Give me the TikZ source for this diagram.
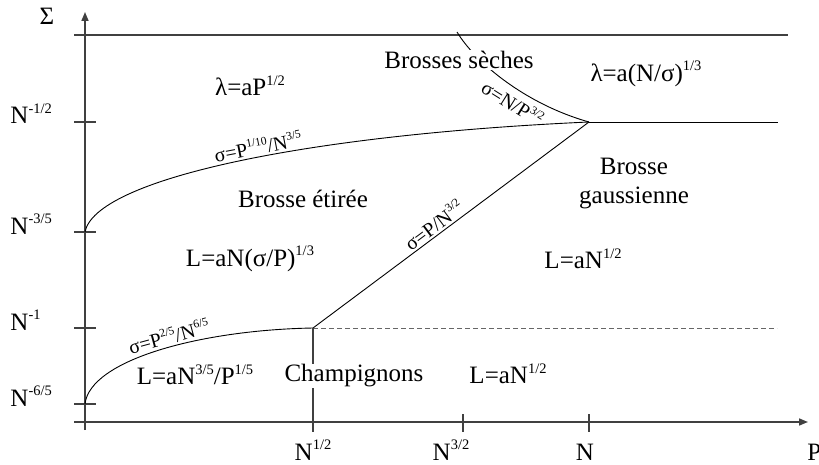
\documentclass[tikz,border=0pt]{standalone}
\usepackage{fontspec}
\setmainfont{Liberation Serif}
\usetikzlibrary{arrows.meta}
\newcommand\ex[1]{\raisebox{.42em}{\scalebox{.58}{#1}}}
\tikzset{axis/.style={line width=1.6pt,black!75}, lbl/.style={font=\fontsize{20}{24}\selectfont,inner sep=2pt}}
\begin{document}
\begin{tikzpicture}[>={Triangle[length=9pt,width=7pt]},x=1pt,y=-1pt,font=\fontsize{25}{29}\selectfont,line width=.9pt]
\useasboundingbox (0,0) rectangle (819,465);
\coordinate (T) at (589,122);
\coordinate (C) at (313,328);
\coordinate (S) at (85,232);
\coordinate (M) at (85,404);
\coordinate (D) at (457,32);
\draw[axis,->](74,422)--(808,422);
\draw[axis,->](85,430)--(85,12);
\node(sig) at (47,16){Σ};
\node(p)[anchor=base west,inner sep=0] at (807,460){P};
\draw[axis](74,35)--(788,35);
\foreach \y/\e in {122/{-1/2},232/{-3/5},328/{-1},404/{-6/5}}{
\draw[axis](74,\y)--(96,\y);
\node[anchor=base west,inner sep=0] at (10,\y+2){N\ex{\e}};}
\foreach \x in {463,589}\draw[axis](\x,414)--(\x,432);
\node[anchor=base,inner sep=0] at (313,460){N\ex{1/2}};
\node[anchor=base,inner sep=0] at (451,460){N\ex{3/2}};
\node[anchor=base,inner sep=0] at (585,460){N};
\draw(S) .. controls (95,180) and (300,135) .. (T)node[pos=.55,sloped,above,lbl]{σ=P\ex{1/10}/N\ex{3/5}};
\draw(M) .. controls (90,360) and (200,330) .. (C)node[pos=.55,sloped,above,lbl]{σ=P\ex{2/5}/N\ex{6/5}};
\draw(C)--(T)node[pos=.46,sloped,above,lbl]{σ=P/N\ex{3/2}};
\draw(D) .. controls (475,62) and (525,104) .. (T)node[pos=.6,sloped,below=3pt,lbl]{σ=N/P\ex{3/2}};
\draw[dashed,black!60,dash pattern=on 5pt off 3pt](C)--(777,328);
\draw(T)--(778,122);
\draw[axis](C)--(313,432);
\node(seches)[fill=white,inner sep=1pt] at (459,60){Brosses sèches};
\node(lamA) at (250,86){λ=aP\ex{1/2}};
\node(lamB) at (646,74){λ=a(N/σ)\ex{1/3}};
\node(etiree) at (303,199){Brosse étirée};
\node(gauss)[align=center] at (634,184){Brosse\\gaussienne};
\node(Letiree) at (250,259){L=aN(σ/P)\ex{1/3}};
\node(Lgauss) at (583,259){L=aN\ex{1/2}};
\node(Lchamp) at (195,375){L=aN\ex{3/5}/P\ex{1/5}};
\node(champ)[fill=white,inner sep=1pt] at (354,376){Champignons};
\node(Lbas) at (508,374){L=aN\ex{1/2}};
\end{tikzpicture}
\end{document}
